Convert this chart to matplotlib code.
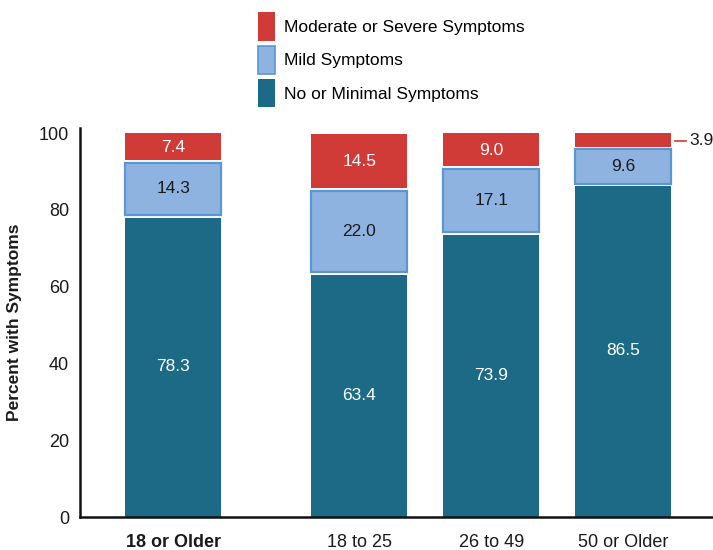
import matplotlib.pyplot as plt
from matplotlib.patches import Patch
import numpy as np

plt.rcParams['font.family'] = ['Liberation Sans', 'DejaVu Sans']

groups = ["18 or Older", "18 to 25", "26 to 49", "50 or Older"]
none_minimal = [78.3, 63.4, 73.9, 86.5]
mild = [14.3, 22.0, 17.1, 9.6]
severe = [7.4, 14.5, 9.0, 3.9]

teal = "#1c6a85"
light_blue = "#8fb3e0"
blue_edge = "#5a96d4"
red = "#d13b37"
text_col = "#1a1a1a"

x = np.array([0, 1.41, 2.41, 3.41])
width = 0.727
gap = 0.7

fig = plt.figure(figsize=(7.13, 5.5), dpi=100)
ax = fig.add_axes([0.1122, 0.06, 0.8878, 0.707])

low = np.array(none_minimal)
mid = np.array(mild)
top = np.array(severe)

ax.bar(x, low - gap / 2, width, color=teal, linewidth=0)
ax.bar(x, mid - gap, width, bottom=low + gap / 2, color=light_blue,
       edgecolor=blue_edge, linewidth=1.6)
ax.bar(x, top - gap / 2, width, bottom=low + mid + gap / 2, color=red, linewidth=0)

for i in range(len(groups)):
    ax.text(x[i], low[i] / 2, f"{low[i]:.1f}", ha="center", va="center",
            color="white", fontsize=12.5)
    ax.text(x[i], low[i] + mid[i] / 2, f"{mid[i]:.1f}", ha="center", va="center",
            color=text_col, fontsize=12.5)
    if top[i] > 5:
        ax.text(x[i], low[i] + mid[i] + top[i] / 2, f"{top[i]:.1f}", ha="center",
                va="center", color="white", fontsize=12.5)
    else:
        # small segment: label sits outside the bar with a leader line
        yv = low[i] + mid[i] + top[i] / 2
        x0 = x[i] + width / 2 + 0.03
        ax.plot([x0, x0 + 0.08], [yv, yv], color=red, lw=1.2, clip_on=False)
        ax.text(x0 + 0.11, yv, f"{top[i]:.1f}", ha="left", va="center",
                color=text_col, fontsize=12.5, clip_on=False)

ax.set_xlim(-0.705, 4.09)
ax.set_ylim(0, 101.3)
ax.set_yticks(np.arange(0, 101, 20))
ax.set_xticks(x)
ax.set_xticklabels(groups)
ax.get_xticklabels()[0].set_fontweight("bold")
ax.tick_params(axis="both", length=0, labelsize=13, colors=text_col)
ax.tick_params(axis="x", pad=12)
ax.tick_params(axis="y", pad=8)
for s in ["top", "right"]:
    ax.spines[s].set_visible(False)
for s in ["left", "bottom"]:
    ax.spines[s].set_linewidth(1.8)
    ax.spines[s].set_color("#111111")
ax.set_ylabel("Percent with Symptoms", fontsize=12.5, fontweight="bold",
              color=text_col, labelpad=12)

handles = [
    Patch(facecolor=red, edgecolor="none", label="Moderate or Severe Symptoms"),
    Patch(facecolor=light_blue, edgecolor=blue_edge, linewidth=1.2, label="Mild Symptoms"),
    Patch(facecolor=teal, edgecolor="none", label="No or Minimal Symptoms"),
]
fig.legend(handles=handles, loc="upper left", bbox_to_anchor=(0.345, 1.0),
           frameon=False, fontsize=12.5, handlelength=0.95, handleheight=2.15,
           handletextpad=0.55, labelspacing=0.28, borderpad=0.2)

fig.savefig("out.png", dpi=100)
